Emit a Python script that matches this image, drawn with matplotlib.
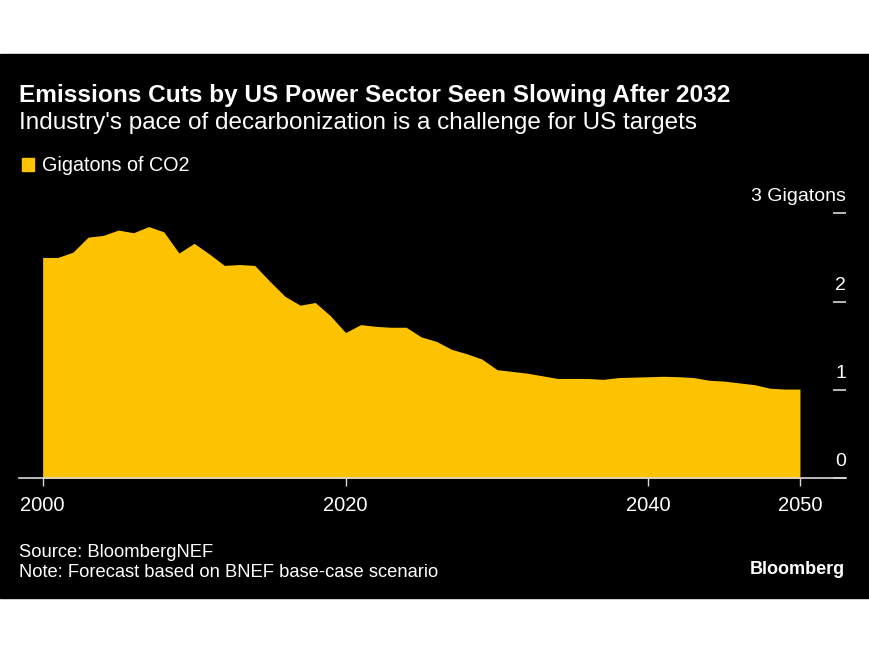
import matplotlib.pyplot as plt
from matplotlib.patches import Rectangle
from matplotlib.transforms import offset_copy, blended_transform_factory

years = list(range(2000, 2051))
gigatons = [2.50, 2.50, 2.56, 2.73, 2.75, 2.81, 2.78, 2.85, 2.79, 2.55,
            2.66, 2.54, 2.41, 2.42, 2.41, 2.23, 2.06, 1.96, 1.99, 1.84,
            1.65, 1.74, 1.72, 1.71, 1.71, 1.60, 1.55, 1.46, 1.41, 1.35,
            1.23, 1.21, 1.19, 1.16, 1.13, 1.13, 1.13, 1.12, 1.14, 1.145,
            1.15, 1.155, 1.15, 1.14, 1.11, 1.10, 1.08, 1.06, 1.02, 1.01,
            1.01]
x_ticks = [2000, 2020, 2040, 2050]
y_ticks = [0, 1, 2, 3]
y_labels = ['0', '1', '2', '3 Gigatons']

W, H = 870, 653
yellow = '#FDC300'
font = 'Liberation Sans'

fig = plt.figure(figsize=(W / 100, H / 100), dpi=100, facecolor='white')

# black panel behind everything
fig.patches.append(Rectangle((0, 1 - 597.5 / H), 1, (597.5 - 54) / H,
                             transform=fig.transFigure, color='black', zorder=-10))

ax = fig.add_axes([19 / W, 1 - 478.3 / H, (846 - 19) / W, (478.3 - 213.3) / H])
ax.set_facecolor('black')
ax.fill_between(years, gigatons, color=yellow, linewidth=0)

ax.set_xlim(1998.44, 2053.04)
ax.set_ylim(0, 3)

for s in ['top', 'left', 'right']:
    ax.spines[s].set_visible(False)
ax.spines['bottom'].set_color('#d9d9d9')
ax.spines['bottom'].set_linewidth(1.2)
ax.spines['bottom'].set_zorder(3)

ax.set_xticks(x_ticks)
ax.set_xticklabels([str(x) for x in x_ticks], fontfamily=font, fontsize=14.5, color='white')
ax.tick_params(axis='x', direction='out', length=6, width=1, color='#d9d9d9', pad=7)

ax.yaxis.tick_right()
ax.set_yticks(y_ticks)
ax.tick_params(axis='y', direction='in', length=9.3, width=1.2, color='#d9d9d9',
               labelright=False, labelleft=False)

trans = blended_transform_factory(ax.transAxes, ax.transData)
trans = offset_copy(trans, fig=fig, x=0, y=8.6, units='points')
for v, lab in zip(y_ticks, y_labels):
    ax.text(1.0, v, lab, transform=trans, ha='right', va='baseline',
            fontfamily=font, fontsize=14, color='white', clip_on=False)

fig.text(19 / W, 1 - 101.7 / H, 'Emissions Cuts by US Power Sector Seen Slowing After 2032',
         fontfamily=font, fontsize=17.6, fontweight='bold', color='white', va='baseline')
fig.text(19 / W, 1 - 129.3 / H, "Industry's pace of decarbonization is a challenge for US targets",
         fontfamily=font, fontsize=17.5, color='white', va='baseline')

fig.patches.append(Rectangle((21.7 / W, 1 - 171 / H), 12.6 / W, 13.3 / H,
                             transform=fig.transFigure, color=yellow))
fig.text(41.7 / W, 1 - 171 / H, 'Gigatons of CO2', fontfamily=font, fontsize=14.2,
         color='white', va='baseline')

fig.text(19 / W, 1 - 557.3 / H, 'Source: BloombergNEF', fontfamily=font, fontsize=13.2,
         color='white', va='baseline')
fig.text(19 / W, 1 - 577.3 / H, 'Note: Forecast based on BNEF base-case scenario',
         fontfamily=font, fontsize=13.2, color='white', va='baseline')
fig.text(844.4 / W, 1 - 574 / H, 'Bloomberg', fontfamily=font, fontsize=13,
         fontweight='bold', color='white', ha='right', va='baseline')

fig.savefig('out.png', dpi=100, facecolor='white')
